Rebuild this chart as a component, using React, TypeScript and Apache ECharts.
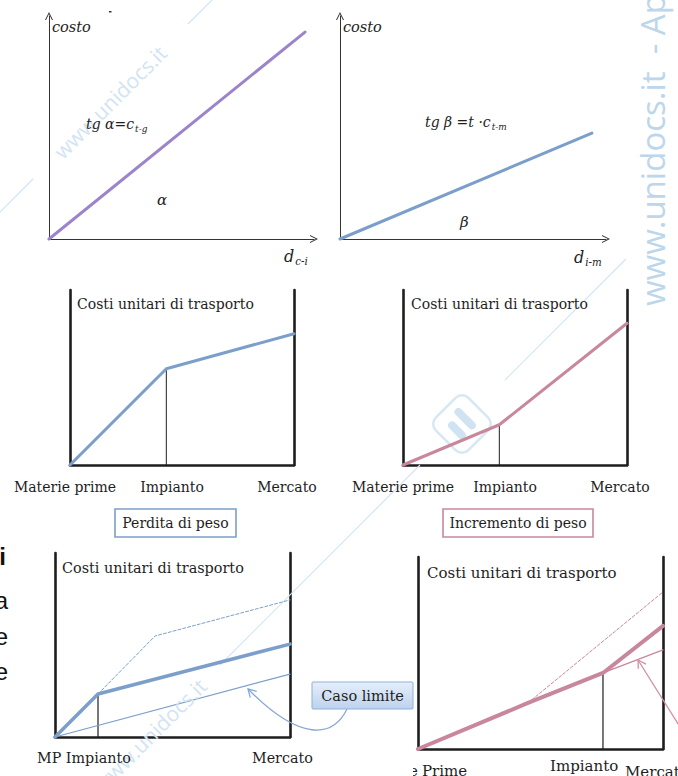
import React, { useEffect, useRef } from 'react';
import * as echarts from 'echarts';

// ---------- data (units: percent of each panel's axis range) ----------
const p1Line = [[0, 0], [96.6, 92.8]];
const p2Line = [[0, 0], [94.7, 47.5]];
const p3Cost = [[0, 0], [43, 55], [100, 75]];
const p3Plant = [[43, 0], [43, 55]];
const p4Cost = [[0, 0], [43, 23], [100, 81]];
const p4Plant = [[43, 0], [43, 23]];
const p5Cost = [[0, 0], [18.3, 23.4], [100, 50.5]];
const p5Dashed = [[18.3, 23.4], [42.6, 54.9], [100, 74.5]];
const p5Limit = [[0, 0], [100, 34.2]];
const p5Plant = [[18.3, 0], [18.3, 23.4]];
const p6Cost = [[0, 0], [44.9, 24], [75.5, 39.6], [100, 64.1]];
const p6Dashed = [[44.9, 24], [100, 81.8]];
const p6Limit = [[75.5, 39.6], [100, 51.6]];
const p6Plant = [[75.5, 0], [75.5, 39.6]];

const yTitle = 'costo';
const boxTitle = 'Costi unitari di trasporto';
const midLabels = ['Materie prime', 'Impianto', 'Mercato'];
const boxLabels = ['Perdita di peso', 'Incremento di peso'];
const bottomLeftLabels = ['MP Impianto', 'Mercato'];
const bottomRightLabels = ['Prime', 'Impianto', 'Mercato'];
const calloutText = 'Caso limite';
const watermark = 'www.unidocs.it';
const sideFragments = ['di', 'la', 'le', 'le'];

const PURPLE = '#9c84cc';
const BLUE = '#7b9fca';
const PINK = '#c9879b';
const INK = '#1e1e1e';
const WM = '#d3e5f4';
const SERIF = "'DejaVu Serif', 'Liberation Serif', serif";
const SANS = "'Open Sans', 'Liberation Sans', sans-serif";
const ARIAL = "'Liberation Sans', Arial, sans-serif";

const grids = [
  { left: 49, top: 16, width: 265, height: 223 },
  { left: 340, top: 16, width: 266, height: 223 },
  { left: 70, top: 290, width: 224, height: 175 },
  { left: 403, top: 290, width: 224, height: 175 },
  { left: 55, top: 553, width: 235, height: 184 },
  { left: 418, top: 557, width: 245, height: 192 },
];

const arrowPath = 'path://M5,0L10,10L8.7,10L5,2.6L1.3,10L0,10Z';

function text(x: number, y: number, t: string, o: any = {}) {
  return {
    type: 'text',
    x,
    y,
    z: 20,
    rotation: o.rotation || 0,
    style: {
      text: t,
      fill: o.fill || INK,
      fontSize: o.fontSize || 14,
      fontFamily: o.fontFamily || SERIF,
      fontStyle: o.fontStyle || 'normal',
      fontWeight: o.fontWeight || 'normal',
      align: o.align || 'left',
      verticalAlign: o.verticalAlign || 'middle',
      rich: o.rich,
    },
  };
}

function subText(x: number, y: number, main: string, sub: string, size = 14) {
  return text(x, y, `{m|${main}}{s|${sub}}`, {
    rich: {
      m: { fontSize: size, fontStyle: 'italic', fontFamily: SERIF, fill: INK, lineHeight: 20 },
      s: { fontSize: size * 0.64, fontStyle: 'italic', fontFamily: SERIF, fill: INK, lineHeight: 20, padding: [9, 0, 0, 1] },
    },
  });
}

export default function App() {
  const ref = useRef<HTMLDivElement>(null);
  useEffect(() => {
    if (!ref.current) return;
    const chart = echarts.init(ref.current, undefined, { renderer: 'svg' });
    const xAxis: any[] = [];
    const yAxis: any[] = [];
    const series: any[] = [];

    const hidden = { axisTick: { show: false }, axisLabel: { show: false }, splitLine: { show: false } };
    grids.forEach((_, gi) => {
      const arrow = gi < 2;
      const line = arrow
        ? { show: true, onZero: false, symbol: ['none', arrowPath], symbolSize: [9, 8], lineStyle: { color: '#333', width: 1 } }
        : { show: true, onZero: false, lineStyle: { color: INK, width: 2.6 } };
      xAxis.push({ gridIndex: gi, type: 'value', min: 0, max: 100, axisLine: line, ...hidden });
      yAxis.push({ gridIndex: gi, type: 'value', min: 0, max: 100, position: 'left', axisLine: line, ...hidden });
    });
    [2, 3, 4, 5].forEach((gi) => {
      yAxis.push({
        gridIndex: gi, type: 'value', min: 0, max: 100, position: 'right',
        axisLine: { show: true, onZero: false, lineStyle: { color: INK, width: 2.6 } }, ...hidden,
      });
    });

    const addLine = (gi: number, data: number[][], color: string, width: number, type: any = 'solid') => {
      series.push({
        type: 'line', xAxisIndex: gi, yAxisIndex: gi, data, symbol: 'none', showSymbol: false, clip: false,
        silent: true, z: 5, lineStyle: { color, width, type, cap: 'round', join: 'round' },
      });
    };
    addLine(0, p1Line, PURPLE, 3);
    addLine(1, p2Line, BLUE, 3);
    addLine(2, p3Plant, INK, 1);
    addLine(2, p3Cost, BLUE, 3);
    addLine(3, p4Plant, INK, 1);
    addLine(3, p4Cost, PINK, 3);
    addLine(4, p5Plant, INK, 1.2);
    addLine(4, p5Dashed, BLUE, 1, [3, 2]);
    addLine(4, p5Limit, BLUE, 1.2);
    addLine(4, p5Cost, BLUE, 3.5);
    addLine(5, p6Plant, INK, 1.2);
    addLine(5, p6Dashed, PINK, 1, [3, 2]);
    addLine(5, p6Limit, PINK, 1.3);
    addLine(5, p6Cost, PINK, 4);

    const graphic: any[] = [
      // watermark lines & texts
      { type: 'line', z: 1, shape: { x1: 0, y1: 212, x2: 33, y2: 179 }, style: { stroke: WM, lineWidth: 1.2 } },
      { type: 'line', z: 1, shape: { x1: 188, y1: 24, x2: 212, y2: 0 }, style: { stroke: WM, lineWidth: 1.2 } },
      text(110, 102, watermark, { rotation: Math.PI / 4, align: 'center', fontFamily: SANS, fontSize: 21, fill: '#d2e4f4' }),
      { type: 'line', z: 1, shape: { x1: 626, y1: 259, x2: 505, y2: 380 }, style: { stroke: WM, lineWidth: 1.2 } },
      { type: 'line', z: 1, shape: { x1: 420, y1: 465, x2: 220, y2: 665 }, style: { stroke: WM, lineWidth: 1.2 } },
      text(150, 735, watermark, { rotation: Math.PI / 4, align: 'center', fontFamily: SANS, fontSize: 21, fill: '#d2e4f4' }),
      text(669, 306, watermark + '  - Appunti', { rotation: Math.PI / 2, align: 'left', verticalAlign: 'bottom', fontFamily: SANS, fontSize: 33, fill: '#bcd6ec' }),
      // logo
      {
        type: 'group', x: 462, y: 424, rotation: Math.PI / 4, z: 1,
        children: [
          { type: 'rect', shape: { x: -23, y: -23, width: 46, height: 46, r: 9 }, style: { fill: 'none', stroke: '#d6e7f5', lineWidth: 2.5 } },
          { type: 'rect', shape: { x: -12, y: -10, width: 8, height: 22, r: 4 }, style: { fill: '#d0e3f3' } },
          { type: 'rect', shape: { x: 2, y: -15, width: 8, height: 27, r: 4 }, style: { fill: '#d0e3f3' } },
        ],
      },
      // tiny mark above the first panel
      { type: 'rect', z: 2, shape: { x: 109, y: 11, width: 2.5, height: 1.5 }, style: { fill: '#333' } },
      // top panels
      text(52, 27, yTitle, { fontStyle: 'italic', fontSize: 14.5 }),
      text(343, 27, yTitle, { fontStyle: 'italic', fontSize: 14.5 }),
      subText(86, 124, 'tg α=c', 't-g'),
      text(157, 200, 'α', { fontStyle: 'italic', fontSize: 15 }),
      subText(284, 256, 'd', 'c-i', 16),
      subText(425, 122, 'tg β =t ·c', 't-m'),
      text(460, 222, 'β', { fontStyle: 'italic', fontSize: 15 }),
      subText(574, 257, 'd', 'i-m', 16),
      // middle panels
      text(77, 304, boxTitle),
      text(411, 304, boxTitle),
      text(65, 487, midLabels[0], { align: 'center' }),
      text(172, 487, midLabels[1], { align: 'center' }),
      text(287, 487, midLabels[2], { align: 'center' }),
      text(403, 487, midLabels[0], { align: 'center' }),
      text(505, 487, midLabels[1], { align: 'center' }),
      text(620, 487, midLabels[2], { align: 'center' }),
      { type: 'rect', z: 15, shape: { x: 115, y: 509, width: 121, height: 28 }, style: { fill: '#fff', stroke: BLUE, lineWidth: 1.6 } },
      text(175.5, 523, boxLabels[0], { align: 'center' }),
      { type: 'rect', z: 15, shape: { x: 443, y: 509, width: 150, height: 28 }, style: { fill: '#fff', stroke: PINK, lineWidth: 1.6 } },
      text(518, 523, boxLabels[1], { align: 'center' }),
      // bottom panels
      text(62, 568, boxTitle, { fontSize: 14.4 }),
      text(427, 573, boxTitle, { fontSize: 15 }),
      text(37, 758, bottomLeftLabels[0], { fontSize: 14.3 }),
      text(252, 758, bottomLeftLabels[1], { fontSize: 14.3 }),
      text(418, 771, 'e', { align: 'right', fontSize: 15 }),
      { type: 'rect', z: 21, shape: { x: 395, y: 760, width: 18, height: 16 }, style: { fill: '#fff' } },
      text(422, 771, bottomRightLabels[0], { fontSize: 15 }),
      text(550, 766, bottomRightLabels[1], { fontSize: 15 }),
      text(625, 772, bottomRightLabels[2], { fontSize: 15 }),
      // callout
      {
        type: 'rect', z: 15, shape: { x: 312, y: 682, width: 101, height: 27, r: 1 },
        style: {
          fill: new echarts.graphic.LinearGradient(0, 0, 0, 1, [
            { offset: 0, color: '#e6effa' },
            { offset: 1, color: '#bcd2ee' },
          ]),
          stroke: '#8fb0db', lineWidth: 1,
        },
      },
      text(362.5, 696, calloutText, { align: 'center', fontSize: 14.5 }),
      {
        type: 'bezierCurve', z: 14,
        shape: { x1: 347, y1: 709, cpx1: 333, cpy1: 738, cpx2: 300, cpy2: 742, x2: 248, y2: 689 },
        style: { stroke: '#86a8d5', lineWidth: 1.3, fill: 'none' },
      },
      { type: 'polyline', z: 14, shape: { points: [[250.3, 697.7], [248, 689], [256.7, 691.3]] }, style: { stroke: '#86a8d5', lineWidth: 1.3, fill: 'none' } },
      { type: 'line', z: 14, shape: { x1: 690, y1: 743, x2: 638, y2: 660 }, style: { stroke: '#d4909f', lineWidth: 1.3 } },
      { type: 'polyline', z: 14, shape: { points: [[638.3, 668.8], [638, 660], [646, 664.2]] }, style: { stroke: '#d4909f', lineWidth: 1.3, fill: 'none' } },
      // cut-off text at the left edge
      text(6, 556, sideFragments[0], { align: 'right', fontFamily: ARIAL, fontWeight: 'bold', fontSize: 24, fill: '#111' }),
      text(8, 600, sideFragments[1], { align: 'right', fontFamily: ARIAL, fontSize: 24, fill: '#111' }),
      text(8, 636, sideFragments[2], { align: 'right', fontFamily: ARIAL, fontSize: 24, fill: '#111' }),
      text(8, 671, sideFragments[3], { align: 'right', fontFamily: ARIAL, fontSize: 24, fill: '#111' }),
    ];

    chart.setOption({
      animation: false,
      backgroundColor: '#fff',
      grid: grids.map((g) => ({ ...g, containLabel: false })),
      xAxis,
      yAxis,
      series,
      graphic,
    });
    return () => chart.dispose();
  }, []);
  return <div ref={ref} style={{ position: 'absolute', left: 0, top: 0, width: 678, height: 776 }} />;
}
